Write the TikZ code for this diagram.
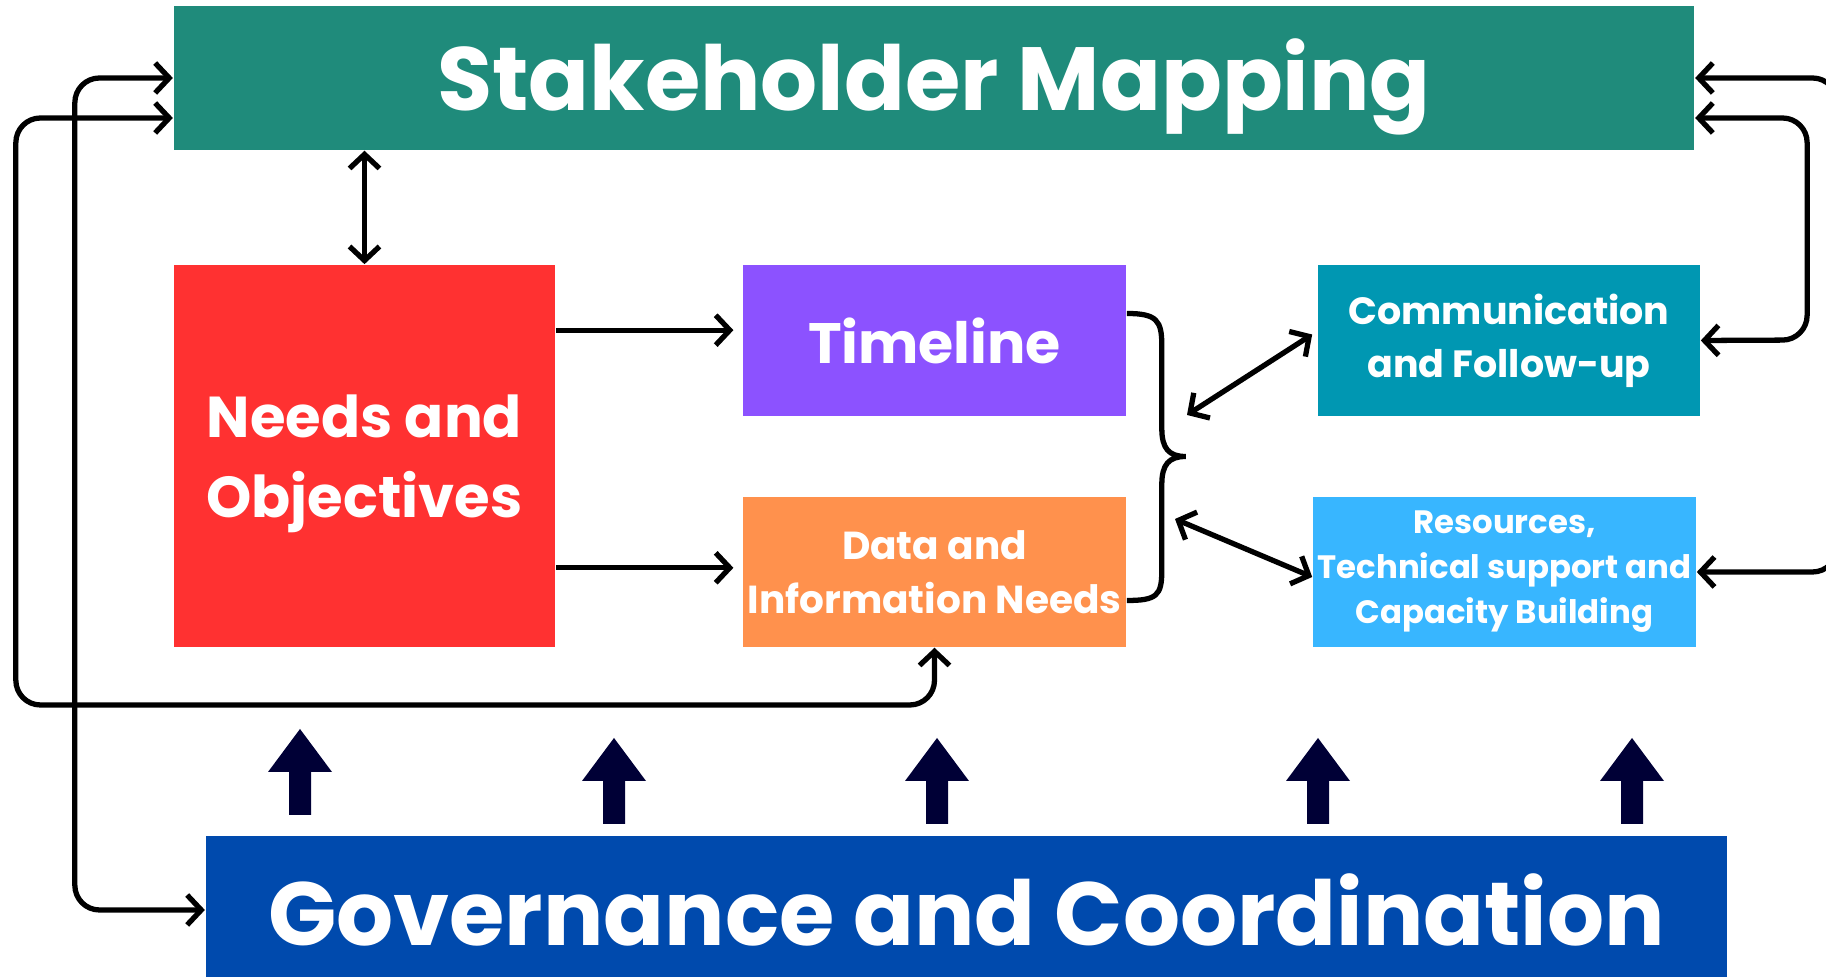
\documentclass[tikz,border=0pt]{standalone}
\usepackage{fontspec}
\setmainfont{Poppins}
\usepackage{tikz}
\usetikzlibrary{arrows.meta,calc}

\definecolor{smgreen}{HTML}{1F8B7B}
\definecolor{needsred}{HTML}{FF3131}
\definecolor{tlpurple}{HTML}{8C52FF}
\definecolor{dataorange}{HTML}{FF914D}
\definecolor{commteal}{HTML}{0097B2}
\definecolor{resblue}{HTML}{38B6FF}
\definecolor{govblue}{HTML}{004AAD}
\definecolor{arrownavy}{HTML}{000036}

\begin{document}
\begin{tikzpicture}[x=0.01cm,y=-0.01cm,
  box/.style={inner sep=0pt,text=white,align=center},
  oneway/.style={line width=1.5pt,-{Straight Barb[length=4pt,width=8.5pt]}},
  twoway/.style={line width=1.5pt,{Straight Barb[length=4pt,width=8.5pt]}-{Straight Barb[length=4pt,width=8.5pt]}}]
\useasboundingbox (0,0) rectangle (1826,977);
% boxes
\node[box,fill=smgreen,minimum width=15.2cm,minimum height=1.44cm,text depth=2pt,font=\bfseries\fontsize{25.5}{30}\selectfont] (sm) at (934,78) {Stakeholder Mapping};
\node[box,fill=needsred,minimum width=3.81cm,minimum height=3.82cm,text depth=0pt,font=\bfseries\fontsize{16.4}{22.8}\selectfont] (needs) at (364.5,456) {Needs and\\Objectives};
\node[box,fill=tlpurple,minimum width=3.83cm,minimum height=1.51cm,font=\bfseries\fontsize{16.2}{20}\selectfont] (tl) at (934.5,340.5) {Timeline};
\node[box,fill=dataorange,minimum width=3.83cm,minimum height=1.5cm,font=\bfseries\fontsize{11.1}{15.4}\selectfont] (data) at (934.5,572) {Data and\\Information Needs};
\node[box,fill=commteal,minimum width=3.82cm,minimum height=1.51cm,font=\bfseries\fontsize{10.8}{15.1}\selectfont] (comm) at (1509,340.5) {Communication\\and Follow-up};
\node[box,fill=resblue,minimum width=3.83cm,minimum height=1.5cm,font=\bfseries\fontsize{9.2}{12.8}\selectfont] (res) at (1504.5,572) {Resources,\\Technical support and\\Capacity Building};
\node[box,fill=govblue,minimum width=15.21cm,minimum height=1.48cm,font=\bfseries\fontsize{25.5}{30}\selectfont] (gov) at (966.5,910) {Governance and Coordination};
% arrows between boxes
\draw[twoway] (needs.north) -- (needs.north |- sm.south);
\draw[oneway] ($(needs.north east)+(0,66)$) coordinate (n1) -- ([xshift=-2.5pt]tl.west |- n1);
\draw[oneway] ($(needs.south east)+(0,-80)$) coordinate (n2) -- ([xshift=-2.5pt]data.west |- n2);
% brace
\draw[line width=1.5pt] ($(tl.east)+(0,-27)$) .. controls +(30,0) and +(0,-25) .. ++(35,32) -- ++(0,83) .. controls +(0,20) and +(-17,0) .. ++(24,28) coordinate (tip) .. controls +(-17,0) and +(0,-20) .. ++(-24,28) -- ++(0,86) .. controls +(0,25) and +(30,0) .. ++(-35,30);
\coordinate (a1) at (1187,415);
\coordinate (a2) at (1175,519);
\draw[twoway] (a1) -- ($(comm.west)+(-5,-6)$);
\draw[twoway] (a2) -- ($(res.west)+(0,5)$);
% loops
\draw[twoway,rounded corners=7pt] (sm.west) -| ($(gov.west)+(-130,0)$) -- (gov.west);
\draw[twoway,rounded corners=7pt] ($(sm.west)+(0,40)$) -| ($(sm.west)+(-157,627)$) -| (data.south);
\draw[twoway,rounded corners=7pt] ($(sm.east)+(0,40)$) -| ($(sm.east)+(112,262)$) -- (comm.east);
\draw[twoway,rounded corners=7pt] (sm.east) -| ($(sm.east)+(142,494)$) -- (res.east);
% block arrows
\foreach \x/\t in {300/729,614/738,937/738,1318/738,1632/738}
  \fill[arrownavy] (\x,\t) -- ++(32,43) -- ++(-21,0) -- ++(0,43) -- ++(-22,0) -- ++(0,-43) -- ++(-21,0) -- cycle;
\end{tikzpicture}
\end{document}
